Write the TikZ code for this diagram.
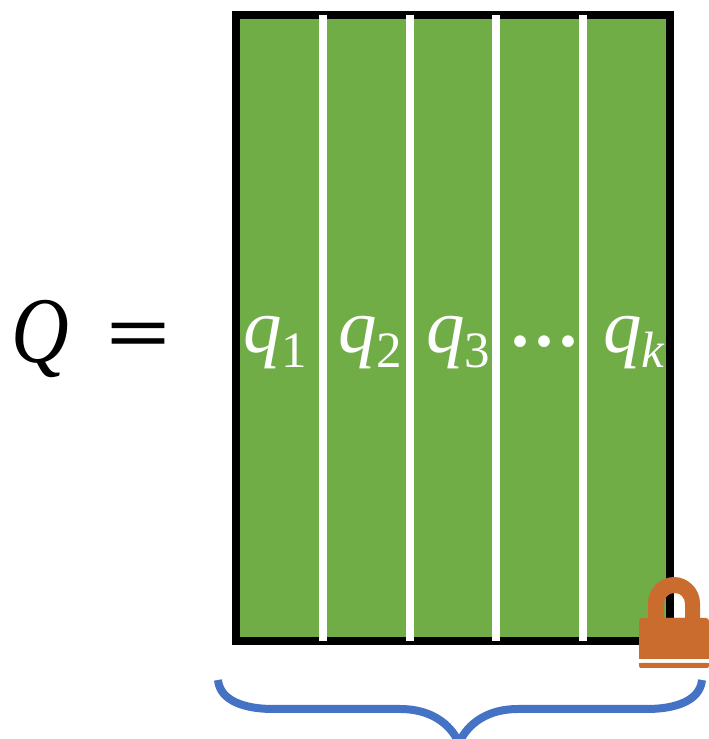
\documentclass[tikz,border=0pt]{standalone}
\usepackage{xcolor}
\usepackage{fontspec}
\setmainfont{Liberation Serif}
\definecolor{matrixFill}{RGB}{112,173,71}
\definecolor{lockBody}{RGB}{201,108,46}
\definecolor{braceBlue}{RGB}{68,114,196}
\newcommand{\qsub}[1]{{\itshape q}\raisebox{-15pt}{\fontsize{51}{51}\selectfont #1}}
\tikzset{
  qlabel/.style={text=white,inner sep=0pt,anchor=base west,font=\fontsize{77}{77}\selectfont},
  biglabel/.style={text=black,inner sep=0pt,anchor=base west,font=\fontsize{94}{94}\selectfont},
  column/.style={white,line width=8pt}
}
\begin{document}
\begin{tikzpicture}[x=1pt,y=1pt]
  \useasboundingbox (0,0) rectangle (709,739);

  % matrix
  \fill[matrixFill] (236,724) rectangle (670,98);
  \draw[black,line width=8pt] (236,724) rectangle (670,98);

  % column separators
  \draw[column] (323,724) -- (323,98);
  \draw[column] (410,724) -- (410,98);
  \draw[column] (496,724) -- (496,98);
  \draw[column] (583,724) -- (583,98);

  % left side
  \node[biglabel,xscale=0.85] (lhs) at (11,376) {\itshape Q};
  \node[biglabel,font=\fontsize{108}{108}\selectfont\bfseries,yscale=0.72,xscale=1.05] (equals) at (106,379.5) {=};

  % column labels
  \node[qlabel] (q1) at (243,386) {\qsub{1}};
  \node[qlabel] (q2) at (338,386) {\qsub{2}};
  \node[qlabel] (q3) at (426,386) {\qsub{3}};
  \node[qlabel,font=\fontsize{72}{72}\selectfont\bfseries] (dots) at (508.5,373) {···};
  \node[qlabel] (qk) at (603,386) {\qsub{\itshape k}};

  % lock
  \fill[lockBody,even odd rule] (648,121) -- (648,136) .. controls (648,150) and (660,162) .. (674,162)
    .. controls (688,162) and (700,150) .. (700,136) -- (700,121) -- cycle
    (664,121) -- (664,135) .. controls (664,141) and (668,146) .. (674.5,146)
    .. controls (681,146) and (685,141) .. (685,135) -- (685,121) -- cycle;
  \fill[lockBody,rounded corners=3pt] (639,80) rectangle (709,121);
  \fill[lockBody] (639,80) rectangle (709,90);
  \fill[lockBody,rounded corners=2pt] (639,71) rectangle (709,76);
  \fill[lockBody] (639,73) rectangle (709,76);

  % brace
  \draw[braceBlue,line width=8pt]
    (218,59) .. controls (220,38) and (245,30) .. (273,30) -- (400,30)
    .. controls (430,30) and (450,16) .. (459,-4);
  \draw[braceBlue,line width=8pt]
    (702,59) .. controls (700,38) and (675,30) .. (647,30) -- (518,30)
    .. controls (488,30) and (468,16) .. (459,-4);
\end{tikzpicture}
\end{document}
